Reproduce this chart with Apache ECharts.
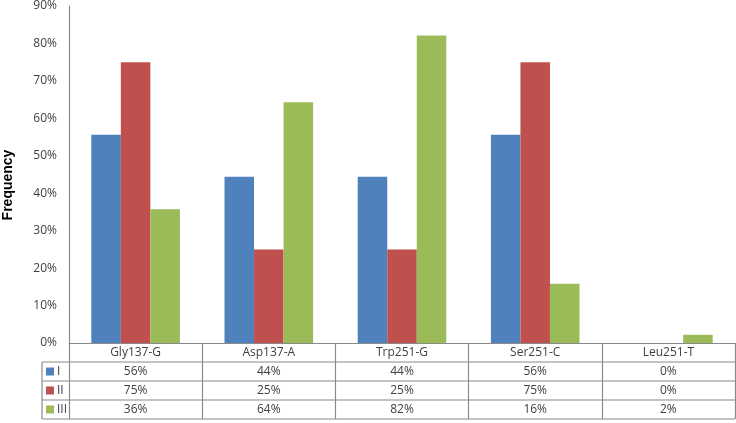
<!DOCTYPE html>
<html>
<head>
<meta charset="utf-8">
<script src="https://cdn.jsdelivr.net/npm/echarts@6/dist/echarts.min.js"></script>
<style>
  html, body { margin: 0; padding: 0; background: #fff; }
  #chart { width: 736px; height: 423px; }
</style>
</head>
<body>
<div id="chart"></div>
<script>
// categories and values (bar heights in %)
var categories = ['Gly137-G', 'Asp137-A', 'Trp251-G', 'Ser251-C', 'Leu251-T'];
var seriesNames = ['I', 'II', 'III'];
var valuesI = [55.6, 44.4, 44.4, 55.6, 0];
var valuesII = [75, 25, 25, 75, 0];
var valuesIII = [35.7, 64.3, 82.1, 15.8, 2.2];
var yTicks = [0, 10, 20, 30, 40, 50, 60, 70, 80, 90];
var colors = ['#4F81BD', '#C0504D', '#9BBB59'];

var lineColor = '#8a8a8a';
var textFont = '"Open Sans", "Liberation Sans", sans-serif';

var gridLeft = 69, gridRight = 1, gridTop = 6, gridBottom = 80;
var axisY = 423 - gridBottom;   // 0% baseline
var rowH = 19;

var chart = echarts.init(document.getElementById('chart'));
var allValues = [valuesI, valuesII, valuesIII];

// table rows below the axis
var graphics = [];
// outer horizontal lines of the data table
for (var r = 1; r <= 4; r++) {
  graphics.push({
    type: 'line',
    shape: { x1: 42, y1: axisY + r * rowH, x2: 736 - gridRight, y2: axisY + r * rowH },
    style: { stroke: lineColor, lineWidth: 1.2 }
  });
}
graphics.push({
  type: 'line',
  shape: { x1: 42, y1: axisY + rowH, x2: 42, y2: axisY + 4 * rowH },
  style: { stroke: lineColor, lineWidth: 1.2 }
});
// legend keys
seriesNames.forEach(function (name, i) {
  var cy = axisY + (i + 1.5) * rowH;
  graphics.push({
    type: 'rect',
    shape: { x: 46, y: cy - 4, width: 8, height: 8 },
    style: { fill: colors[i] }
  });
  graphics.push({
    type: 'text',
    style: {
      text: name, x: 57, y: cy, verticalAlign: 'middle',
      font: '12px ' + textFont, fill: '#404040'
    }
  });
});
// y axis title
graphics.push({
  type: 'text',
  x: 8, y: 185, rotation: Math.PI / 2,
  style: {
    text: 'Frequency', align: 'center', verticalAlign: 'middle',
    font: 'bold 14px "Liberation Sans", Arial, sans-serif', fill: '#000'
  }
});

chart.setOption({
  animation: false,
  grid: { left: gridLeft, right: gridRight, top: gridTop, bottom: gridBottom, outerBoundsMode: 'none' },
  xAxis: {
    type: 'category',
    data: categories,
    axisLine: { lineStyle: { color: lineColor, width: 1.2 } },
    axisTick: { show: true, length: 4 * rowH, lineStyle: { color: lineColor, width: 1.2 } },
    axisLabel: {
      margin: 0,
      lineHeight: rowH,
      fontSize: 12,
      fontFamily: textFont,
      color: '#404040',
      formatter: function (v, idx) {
        var lines = [v];
        allValues.forEach(function (arr) { lines.push(Math.round(arr[idx]) + '%'); });
        return lines.join('\n');
      }
    }
  },
  yAxis: {
    type: 'value',
    min: yTicks[0],
    max: yTicks[yTicks.length - 1],
    interval: 10,
    axisLine: { show: true, lineStyle: { color: lineColor, width: 1.2 } },
    axisTick: { show: false },
    splitLine: { show: false },
    axisLabel: {
      margin: 12,
      fontSize: 12,
      fontFamily: textFont,
      color: '#404040',
      formatter: '{value}%'
    }
  },
  series: allValues.map(function (arr, i) {
    return {
      name: seriesNames[i],
      type: 'bar',
      data: arr,
      itemStyle: { color: colors[i] },
      barGap: '0%',
      barCategoryGap: '33.5%'
    };
  }),
  graphic: graphics
});
</script>
</body>
</html>
